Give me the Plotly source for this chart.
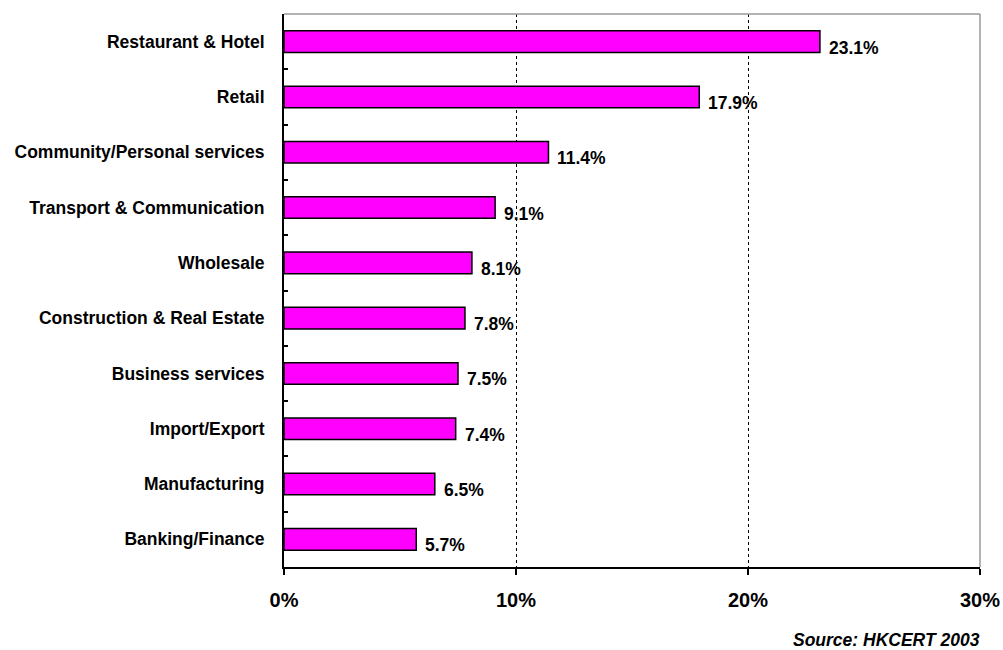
import plotly.graph_objects as go

# Share of respondents by industry sector (%)
sectors = [
    "Restaurant & Hotel",
    "Retail",
    "Community/Personal services",
    "Transport & Communication",
    "Wholesale",
    "Construction & Real Estate",
    "Business services",
    "Import/Export",
    "Manufacturing",
    "Banking/Finance",
]
shares = [23.1, 17.9, 11.4, 9.1, 8.1, 7.8, 7.5, 7.4, 6.5, 5.7]
x_ticks = [0, 10, 20, 30]
x_tick_labels = ["0%", "10%", "20%", "30%"]
source_note = "Source: HKCERT 2003"

FONT = "Liberation Sans, Arial, sans-serif"

fig = go.Figure(
    go.Bar(
        x=shares,
        y=sectors,
        orientation="h",
        width=0.39,
        marker=dict(color="#FF00FF", line=dict(color="black", width=1.5)),
        hoverinfo="x+y",
    )
)

# Value labels just past the end of each bar, sitting slightly low
for s, v in zip(sectors, shares):
    fig.add_annotation(
        x=v, y=s, xref="x", yref="y",
        text=f"<b>{v:.1f}%</b>",
        showarrow=False, xanchor="left", yanchor="middle",
        xshift=7, yshift=-6,
        font=dict(family=FONT, size=17.5, color="black"),
    )

# Source note under the bottom-right corner
fig.add_annotation(
    x=1.0, y=-0.132, xref="paper", yref="paper",
    xanchor="right", yanchor="middle", xshift=2,
    text=f"<b><i>{source_note}</i></b>",
    showarrow=False,
    font=dict(family=FONT, size=17.5, color="black"),
)

# Grey plot-area border on top and right
fig.add_shape(type="line", xref="paper", yref="paper", x0=0, x1=1, y0=1, y1=1,
              line=dict(color="#999999", width=1.5))
fig.add_shape(type="line", xref="paper", yref="paper", x0=1, x1=1, y0=0, y1=1,
              line=dict(color="#999999", width=1.5))

fig.update_layout(
    width=1003, height=650,
    margin=dict(l=284, r=23, t=14, b=83, autoexpand=False),
    paper_bgcolor="white", plot_bgcolor="white",
    showlegend=False,
    font=dict(family=FONT, color="black"),
    xaxis=dict(
        range=[0, 30],
        tickvals=x_ticks,
        ticktext=[f"<b>{t}</b>" for t in x_tick_labels],
        tickfont=dict(family=FONT, size=20, color="black"),
        ticks="outside", ticklen=6, tickwidth=1.5, tickcolor="black",
        ticklabelstandoff=8,
        automargin=False,
        showline=True, linecolor="black", linewidth=2,
        showgrid=True, gridcolor="black", gridwidth=1, griddash="dot",
        zeroline=False,
        fixedrange=True,
    ),
    yaxis=dict(
        categoryorder="array", categoryarray=sectors,
        autorange="reversed",
        tickvals=sectors,
        ticktext=[f"<b>{s}</b>" for s in sectors],
        tickfont=dict(family=FONT, size=17.5, color="black"),
        tickson="boundaries",
        ticks="inside", ticklen=4, tickwidth=1.5, tickcolor="black",
        ticklabelstandoff=14,
        automargin=False,
        showline=True, linecolor="black", linewidth=2,
        showgrid=False, zeroline=False,
        fixedrange=True,
    ),
)

fig.write_html("out.html")
